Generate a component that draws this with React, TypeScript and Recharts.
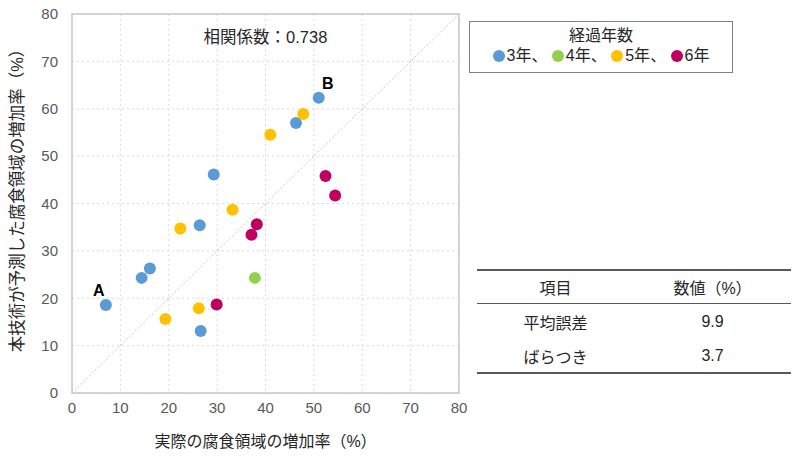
import React from "react";
import {
  ScatterChart,
  Scatter,
  XAxis,
  YAxis,
  CartesianGrid,
  ReferenceLine,
  ReferenceArea,
  LabelList,
} from "recharts";

const FONT = '"Liberation Sans", "Noto Sans CJK JP", sans-serif';

// x: 実際の腐食領域の増加率, y: 本技術が予測した増加率
const year3 = [
  { x: 51.0, y: 62.3, tag: "B" },
  { x: 46.3, y: 57.0 },
  { x: 29.3, y: 46.1 },
  { x: 26.4, y: 35.4 },
  { x: 16.1, y: 26.3 },
  { x: 14.4, y: 24.3 },
  { x: 7.0, y: 18.6, tag: "A" },
  { x: 26.6, y: 13.1 },
];
const year4 = [{ x: 37.8, y: 24.3 }];
const year5 = [
  { x: 47.8, y: 58.9 },
  { x: 41.0, y: 54.5 },
  { x: 33.2, y: 38.7 },
  { x: 22.4, y: 34.7 },
  { x: 26.2, y: 17.9 },
  { x: 19.3, y: 15.6 },
];
const year6 = [
  { x: 52.4, y: 45.8 },
  { x: 54.4, y: 41.7 },
  { x: 38.2, y: 35.6 },
  { x: 37.1, y: 33.4 },
  { x: 29.9, y: 18.7 },
];

const series = [
  { name: "3年", data: year3, color: "#5b9bd5" },
  { name: "4年", data: year4, color: "#92d050" },
  { name: "5年", data: year5, color: "#ffc000" },
  { name: "6年", data: year6, color: "#c0005f" },
];

const ticks = [0, 10, 20, 30, 40, 50, 60, 70, 80];
const correlation = "0.738";
const yTitle = "本技術が予測した腐食領域の増加率（%）";
const xTitle = "実際の腐食領域の増加率（%）";
const tableHeader = ["項目", "数値（%）"];
const tableRows = [
  ["平均誤差", "9.9"],
  ["ばらつき", "3.7"],
];

const Dot = (props: any) => (
  <circle cx={props.cx} cy={props.cy} r={6} fill={props.fill} />
);

const PointTag = (props: any) => {
  const { x, y, width, value } = props;
  if (!value) return null;
  const cx = x + width / 2;
  const dx = value === "A" ? -7 : 9;
  return (
    <text
      x={cx + dx}
      y={y - 4}
      textAnchor="middle"
      fontSize={16}
      fontWeight="bold"
      fontFamily={FONT}
      fill="#000"
    >
      {value}
    </text>
  );
};

// rotated y title, nudged a little above the plot centre like the original
const YTitle = (props: any) => {
  const vb = props.viewBox || {};
  const cx = 17;
  const cy = vb.y + vb.height / 2 - 7;
  return (
    <text
      x={cx}
      y={cy}
      transform={`rotate(-90 ${cx} ${cy})`}
      textAnchor="middle"
      dominantBaseline="central"
      fontSize={16.5}
      fontFamily={FONT}
      fill="#262626"
    >
      {yTitle}
    </text>
  );
};

export default function App() {
  return (
    <div
      style={{
        position: "absolute",
        left: 0,
        top: 0,
        width: 793,
        height: 461,
        background: "#fff",
        fontFamily: FONT,
      }}
    >
      <ScatterChart
        width={793}
        height={461}
        margin={{ top: 14, right: 334, bottom: 0, left: 0 }}
      >
        <CartesianGrid stroke="#dadada" strokeDasharray="2 3" />
        <XAxis
          type="number"
          dataKey="x"
          domain={[0, 80]}
          ticks={ticks}
          height={68}
          axisLine={false}
          tickLine={false}
          tickMargin={3}
          tick={{ fill: "#595959", fontSize: 15, fontFamily: FONT }}
          label={{
            value: xTitle,
            position: "insideBottom",
            offset: 14,
            fill: "#262626",
            fontSize: 16,
            fontFamily: FONT,
          }}
        />
        <YAxis
          type="number"
          dataKey="y"
          domain={[0, 80]}
          ticks={ticks}
          width={72}
          axisLine={false}
          tickLine={false}
          tickMargin={8}
          tick={{ fill: "#595959", fontSize: 15, fontFamily: FONT }}
          label={{ value: yTitle, content: YTitle }}
        />
        <ReferenceArea
          x1={0}
          x2={80}
          y1={0}
          y2={80}
          fill="none"
          stroke="#c8c8c8"
          strokeWidth={1.5}
        />
        <ReferenceLine
          segment={[
            { x: 0, y: 0 },
            { x: 80, y: 80 },
          ]}
          stroke="#c8c8c8"
          strokeDasharray="2 2"
        />
        {series.map((s) => (
          <Scatter
            key={s.name}
            name={s.name}
            data={s.data}
            fill={s.color}
            shape={Dot}
            isAnimationActive={false}
          >
            {s.name === "3年" && (
              <LabelList dataKey="tag" content={PointTag} />
            )}
          </Scatter>
        ))}
      </ScatterChart>

      <div
        style={{
          position: "absolute",
          left: 72,
          width: 387,
          top: 24,
          textAlign: "center",
          fontSize: 16.5,
          color: "#262626",
        }}
      >
        相関係数：{correlation}
      </div>

      <div
        style={{
          position: "absolute",
          left: 469,
          top: 21,
          width: 262,
          height: 50,
          border: "1px solid #808080",
          textAlign: "center",
          color: "#262626",
          fontSize: 16,
          lineHeight: "20px",
        }}
      >
        <div style={{ marginTop: 4 }}>経過年数</div>
        <div>
          {series.map((s, i) => (
            <span key={s.name}>
              <span
                style={{
                  display: "inline-block",
                  width: 12,
                  height: 12,
                  borderRadius: 6,
                  background: s.color,
                  marginRight: 2,
                  verticalAlign: "-1px",
                }}
              />
              {s.name}
              {i < series.length - 1 ? "、 " : ""}
            </span>
          ))}
        </div>
      </div>

      <table
        style={{
          position: "absolute",
          left: 477,
          top: 269,
          width: 314,
          borderCollapse: "collapse",
          fontSize: 16,
          color: "#262626",
          borderTop: "2px solid #595959",
          borderBottom: "2.5px solid #595959",
        }}
      >
        <thead>
          <tr style={{ height: 33, borderBottom: "1.5px solid #595959" }}>
            {tableHeader.map((h) => (
              <th key={h} style={{ fontWeight: "normal", padding: 0, width: "50%" }}>
                {h}
              </th>
            ))}
          </tr>
        </thead>
        <tbody>
          {tableRows.map((r, i) => (
            <tr key={r[0]} style={{ height: i === 0 ? 37 : 33 }}>
              {r.map((c) => (
                <td key={c} style={{ textAlign: "center", padding: 0 }}>
                  {c}
                </td>
              ))}
            </tr>
          ))}
        </tbody>
      </table>
    </div>
  );
}
